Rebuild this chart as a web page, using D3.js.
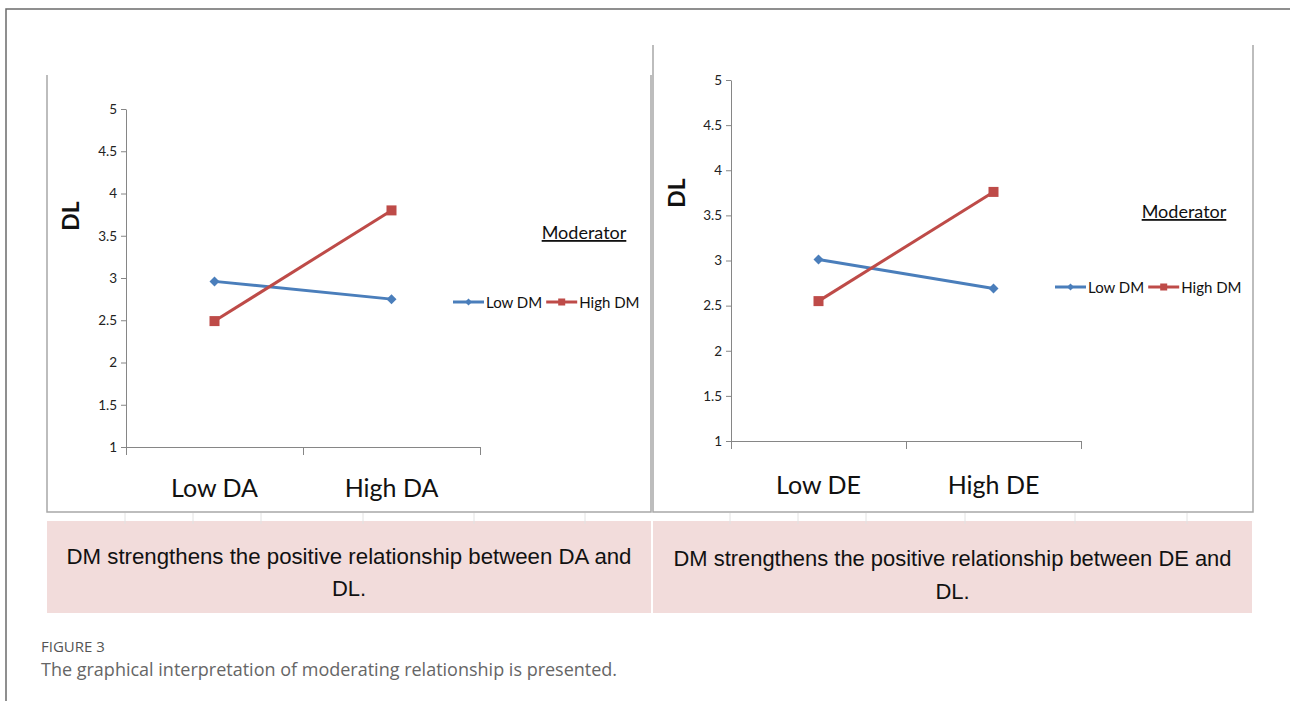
<!DOCTYPE html>
<html>
<head>
<meta charset="utf-8">
<script src="https://cdn.jsdelivr.net/npm/d3@7"></script>
<style>
  html, body { margin: 0; padding: 0; background: #fff; }
  svg { display: block; }
</style>
</head>
<body>
<svg id="chart" width="1290" height="701"></svg>
<script>
// ---------- DATA ----------
const categoriesA = ["Low DA", "High DA"];
const categoriesE = ["Low DE", "High DE"];
const seriesNames = ["Low DM", "High DM"];
const lowDM_A  = [2.96, 2.75];
const highDM_A = [2.49, 3.80];
const lowDM_E  = [3.01, 2.69];
const highDM_E = [2.55, 3.76];
const yTicks = [1, 1.5, 2, 2.5, 3, 3.5, 4, 4.5, 5];
const yTitle = "DL";
const legendTitle = "Moderator";
const notesA = ["DM strengthens the positive relationship between DA and", "DL."];
const notesE = ["DM strengthens the positive relationship between DE and", "DL."];
const captionLabel = "FIGURE 3";
const captionText = "The graphical interpretation of moderating relationship is presented.";

// ---------- STYLE ----------
const colors = { "Low DM": "#4a7ebb", "High DM": "#be4b48" };
const excelFont = "Lato, 'Open Sans', sans-serif";
const svg = d3.select("#chart");

// outer frame
svg.append("path")
  .attr("d", "M6,701 V9 H1290")
  .attr("fill", "none").attr("stroke", "#6b6b6b").attr("stroke-width", 1.5);

function marker(g, name, x, y, s) {
  if (name === "Low DM") {
    const h = s / 2;
    g.append("path")
      .attr("d", `M0,${-h} L${h},0 L0,${h} L${-h},0 Z`)
      .attr("transform", `translate(${x},${y})`)
      .attr("fill", colors[name]);
  } else {
    g.append("rect")
      .attr("x", x - s / 2).attr("y", y - s / 2)
      .attr("width", s).attr("height", s)
      .attr("fill", colors[name]);
  }
}

function panel(cfg) {
  const g = svg.append("g");
  // panel box (sides + bottom, no top edge)
  const [bx0, by0, bx1, by1] = cfg.box;
  g.append("path")
    .attr("d", `M${bx0},${by0} V${by1} H${bx1} V${by0}`)
    .attr("fill", "none").attr("stroke", "#a8a8a8").attr("stroke-width", 1.5);

  const y = d3.scaleLinear().domain([1, 5]).range([cfg.plot.bottom, cfg.plot.top]);
  const xBand = d3.scaleBand().domain(cfg.categories).range([cfg.plot.left, cfg.plot.right]);
  const xEdge = d3.scaleLinear().domain([0, cfg.categories.length]).range([cfg.plot.left, cfg.plot.right]);
  const xc = c => xBand(c) + xBand.bandwidth() / 2;

  // y axis
  const ya = g.append("g")
    .attr("transform", `translate(${cfg.plot.left},0)`)
    .call(d3.axisLeft(y).tickValues(yTicks).tickFormat(d3.format("")).tickSize(5).tickSizeOuter(0).tickPadding(4));
  ya.select(".domain").attr("stroke", "#868686");
  ya.selectAll(".tick line").attr("stroke", "#868686");
  ya.selectAll(".tick text").attr("font-family", excelFont).attr("font-size", 13.5).attr("fill", "#222");

  // x axis (tick marks between categories)
  const xa = g.append("g")
    .attr("transform", `translate(0,${cfg.plot.bottom})`)
    .call(d3.axisBottom(xEdge).tickValues(d3.range(cfg.categories.length + 1)).tickFormat("").tickSize(8).tickSizeOuter(0));
  xa.select(".domain").attr("stroke", "#868686");
  xa.selectAll(".tick line").attr("stroke", "#868686");

  // category labels
  g.selectAll("text.cat").data(cfg.categories).enter().append("text")
    .attr("class", "cat")
    .attr("x", d => xc(d)).attr("y", cfg.catY)
    .attr("text-anchor", "middle")
    .attr("font-family", excelFont).attr("font-size", 25).attr("fill", "#111")
    .text(d => d);

  // y title
  g.append("text")
    .attr("transform", `translate(${cfg.titlePos[0]},${cfg.titlePos[1]}) rotate(-90)`)
    .attr("text-anchor", "middle").attr("dominant-baseline", "central")
    .attr("font-family", excelFont).attr("font-weight", "bold").attr("font-size", 23).attr("fill", "#111")
    .text(yTitle);

  // series
  const line = d3.line().x(d => xc(d.c)).y(d => y(d.v));
  cfg.series.forEach(s => {
    const pts = cfg.categories.map((c, i) => ({ c, v: s.values[i] }));
    g.append("path").datum(pts).attr("d", line)
      .attr("fill", "none").attr("stroke", colors[s.name]).attr("stroke-width", 3);
    pts.forEach(p => marker(g, s.name, xc(p.c), y(p.v), 10));
  });

  // legend
  g.append("text")
    .attr("x", cfg.modPos[0]).attr("y", cfg.modPos[1])
    .attr("text-anchor", "middle")
    .attr("font-family", excelFont).attr("font-size", 18).attr("fill", "#111")
    .attr("text-decoration", "underline")
    .text(legendTitle);

  let lx = cfg.legend[0];
  const ly = cfg.legend[1];
  seriesNames.forEach(name => {
    g.append("line").attr("x1", lx).attr("x2", lx + 31).attr("y1", ly).attr("y2", ly)
      .attr("stroke", colors[name]).attr("stroke-width", 3);
    marker(g, name, lx + 15.5, ly, 7);
    const t = g.append("text").attr("x", lx + 33).attr("y", ly)
      .attr("dominant-baseline", "central")
      .attr("font-family", excelFont).attr("font-size", 15).attr("fill", "#111")
      .text(name);
    lx += 33 + t.node().getComputedTextLength() + 4;
  });

  // pink note box
  g.append("rect")
    .attr("x", cfg.note.x0).attr("y", cfg.note.y0)
    .attr("width", cfg.note.x1 - cfg.note.x0).attr("height", cfg.note.y1 - cfg.note.y0)
    .attr("fill", "#f2dcdb");
  cfg.note.cols.forEach(cx => {
    g.append("line").attr("x1", cx).attr("x2", cx).attr("y1", cfg.box[3] + 1).attr("y2", cfg.note.y0 + 3)
      .attr("stroke", "#e2e2e2").attr("stroke-width", 1);
  });
  const cxn = (cfg.note.x0 + cfg.note.x1) / 2;
  cfg.notes.forEach((txt, i) => {
    g.append("text")
      .attr("x", cxn).attr("y", cfg.note.baselines[i])
      .attr("text-anchor", "middle")
      .attr("font-family", "'Liberation Sans', Arial, sans-serif").attr("font-size", 22).attr("fill", "#111")
      .attr("textLength", i === 0 ? cfg.note.len : null)
      .attr("lengthAdjust", "spacingAndGlyphs")
      .text(txt);
  });
}

panel({
  box: [47, 75, 651, 512],
  plot: { left: 126, right: 480, top: 109, bottom: 447 },
  categories: categoriesA,
  series: [{ name: "Low DM", values: lowDM_A }, { name: "High DM", values: highDM_A }],
  catY: 497,
  titlePos: [70, 216],
  modPos: [584, 239],
  legend: [453, 302],
  notes: notesA,
  note: { x0: 47, x1: 651, y0: 521, y1: 613, baselines: [564, 596], len: 565,
          cols: [125, 193, 261, 363, 474, 585] }
});

panel({
  box: [653, 45, 1253, 512],
  plot: { left: 731, right: 1081, top: 80, bottom: 441 },
  categories: categoriesE,
  series: [{ name: "Low DM", values: lowDM_E }, { name: "High DM", values: highDM_E }],
  catY: 494,
  titlePos: [676, 193],
  modPos: [1184, 218],
  legend: [1055, 287],
  notes: notesE,
  note: { x0: 653, x1: 1252, y0: 521, y1: 613, baselines: [566, 599], len: 558,
          cols: [730, 798, 866, 965, 1075, 1187] }
});

// caption
svg.append("text")
  .attr("x", 41).attr("y", 652)
  .attr("font-family", "'Open Sans', sans-serif").attr("font-size", 15).attr("fill", "#555")
  .text(captionLabel);
svg.append("text")
  .attr("x", 41).attr("y", 676)
  .attr("font-family", "'Open Sans', sans-serif").attr("font-size", 18).attr("fill", "#666")
  .text(captionText);
</script>
</body>
</html>
